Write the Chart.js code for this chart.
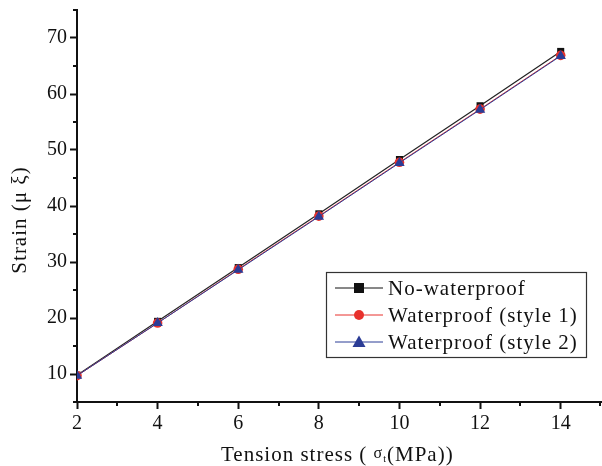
<!DOCTYPE html>
<html>
<head>
<meta charset="utf-8">
<script src="https://cdn.jsdelivr.net/npm/chart.js@4.4.1/dist/chart.umd.min.js"></script>
<style>
  html, body { margin: 0; padding: 0; background: #fff; }
  #wrap { width: 602px; height: 466px; }
</style>
</head>
<body>
<div id="wrap"><canvas id="c" width="602" height="466"></canvas></div>
<script>
// 数据：横轴为拉应力 (MPa)，纵轴为应变
const stress = [2, 4, 6, 8, 10, 12, 14];
const noWaterproof = [9.8, 19.4, 29.0, 38.6, 48.3, 57.9, 67.6];
const waterproof1 = [9.7, 19.1, 28.7, 38.2, 47.8, 57.3, 66.9];
const waterproof2 = [9.7, 19.1, 28.6, 38.1, 47.7, 57.2, 66.8];

const xMajorTicks = [2, 4, 6, 8, 10, 12, 14];
const xMinorTicks = [3, 5, 7, 9, 11, 13, 15];
const yMajorTicks = [10, 20, 30, 40, 50, 60, 70];
const yMinorTicks = [5, 15, 25, 35, 45, 55, 65, 75];

const legendItems = [
  { label: 'No-waterproof', color: '#111', style: 'rect' },
  { label: 'Waterproof (style 1)', color: '#e8312c', style: 'circle' },
  { label: 'Waterproof (style 2)', color: '#2b3c96', style: 'triangle' },
];

const serif = '"Liberation Serif", "Times New Roman", serif';

const toPoints = (ys) => stress.map((x, i) => ({ x, y: ys[i] }));

// 次刻度、图例和坐标轴标题自己画
const extras = {
  id: 'extras',
  afterDraw(chart) {
    const ctx = chart.ctx;
    const xs = chart.scales.x;
    const ys = chart.scales.y;
    const area = chart.chartArea;

    ctx.save();
    ctx.strokeStyle = '#111';
    ctx.lineWidth = 2;
    xMinorTicks.forEach((v) => {
      const px = Math.min(Math.round(xs.getPixelForValue(v)), 600);
      ctx.beginPath();
      ctx.moveTo(px, area.bottom);
      ctx.lineTo(px, area.bottom + 4);
      ctx.stroke();
    });
    yMinorTicks.forEach((v) => {
      const py = Math.round(ys.getPixelForValue(v));
      ctx.beginPath();
      ctx.moveTo(area.left, py);
      ctx.lineTo(area.left - 4, py);
      ctx.stroke();
    });

    // legend box
    const bx = 326, by = 272, bw = 260, bh = 85;
    ctx.fillStyle = '#fff';
    ctx.fillRect(bx, by, bw, bh);
    ctx.lineWidth = 1.2;
    ctx.strokeStyle = '#333';
    ctx.strokeRect(bx + 0.5, by + 0.5, bw, bh);

    ctx.font = '21px ' + serif;
    ctx.letterSpacing = '1px';
    ctx.textBaseline = 'middle';
    ctx.textAlign = 'left';
    legendItems.forEach((item, i) => {
      const cy = by + 16 + i * 27;
      ctx.strokeStyle = item.color;
      ctx.lineWidth = 1;
      ctx.beginPath();
      ctx.moveTo(335, cy);
      ctx.lineTo(383, cy);
      ctx.stroke();
      ctx.fillStyle = item.color;
      const mx = 359;
      ctx.beginPath();
      if (item.style === 'rect') {
        ctx.rect(mx - 5, cy - 5, 10, 10);
      } else if (item.style === 'circle') {
        ctx.arc(mx, cy, 5, 0, Math.PI * 2);
      } else {
        ctx.moveTo(mx, cy - 6.5);
        ctx.lineTo(mx + 6.5, cy + 5);
        ctx.lineTo(mx - 6.5, cy + 5);
        ctx.closePath();
      }
      ctx.fill();
      ctx.fillStyle = '#111';
      ctx.fillText(item.label, 388, cy + 1);
    });

    // x title with subscript t
    ctx.letterSpacing = '1px';
    ctx.fillStyle = '#111';
    ctx.textBaseline = 'alphabetic';
    const base = 461;
    let tx = 221;
    const parts = [
      { t: 'Tension stress ( ', f: '21px ' + serif, dy: 0 },
      { t: 'σ', f: '16px ' + serif, dy: -3 },
      { t: 't', f: '10px ' + serif, dy: 1 },
      { t: '(MPa))', f: '21px ' + serif, dy: 0 },
    ];
    parts.forEach((p) => {
      ctx.font = p.f;
      ctx.fillText(p.t, tx, base + p.dy);
      tx += ctx.measureText(p.t).width;
    });

    // y title
    ctx.save();
    ctx.translate(26, 220);
    ctx.rotate(-Math.PI / 2);
    ctx.font = '21px ' + serif;
    ctx.letterSpacing = '1px';
    ctx.textAlign = 'center';
    ctx.fillText('Strain (μ ξ)', 0, 0);
    ctx.restore();

    ctx.restore();
  },
};

new Chart(document.getElementById('c'), {
  type: 'line',
  data: {
    datasets: [
      {
        label: 'No-waterproof',
        data: toPoints(noWaterproof),
        borderColor: '#222',
        backgroundColor: '#111',
        borderWidth: 1.2,
        pointStyle: 'rect',
        pointRadius: 5,
        pointBorderWidth: 0,
        order: 2,
      },
      {
        label: 'Waterproof (style 1)',
        data: toPoints(waterproof1),
        borderColor: '#e8312c',
        backgroundColor: '#e8312c',
        borderWidth: 1,
        pointStyle: 'circle',
        pointRadius: 4.8,
        pointBorderWidth: 0,
        order: 1,
      },
      {
        label: 'Waterproof (style 2)',
        data: toPoints(waterproof2),
        borderColor: '#2b3c96',
        backgroundColor: '#2b3c96',
        borderWidth: 1,
        pointStyle: 'triangle',
        pointRadius: 6,
        pointBorderWidth: 0,
        order: 0,
      },
    ],
  },
  options: {
    responsive: false,
    animation: false,
    events: [],
    layout: { autoPadding: false, padding: { top: 10, right: 1, left: 0, bottom: 0 } },
    plugins: { legend: { display: false }, tooltip: { enabled: false } },
    scales: {
      x: {
        type: 'linear',
        min: 2,
        max: 15,
        afterBuildTicks: (s) => { s.ticks = xMajorTicks.map((v) => ({ value: v })); },
        afterFit: (s) => { s.height = 64; s.paddingLeft = 0; s.paddingRight = 0; },
        border: { display: true, color: '#111', width: 2 },
        grid: { drawOnChartArea: false, color: '#111', tickLength: 7, tickWidth: 2 },
        ticks: { color: '#111', font: { family: serif, size: 20 }, padding: 3, maxRotation: 0 },
      },
      y: {
        type: 'linear',
        min: 5,
        max: 75,
        afterBuildTicks: (s) => { s.ticks = yMajorTicks.map((v) => ({ value: v })); },
        afterFit: (s) => { s.width = 77; s.paddingTop = 0; s.paddingBottom = 0; },
        border: { display: true, color: '#111', width: 2 },
        grid: { drawOnChartArea: false, color: '#111', tickLength: 7, tickWidth: 2 },
        ticks: { color: '#111', font: { family: serif, size: 20 }, padding: 3 },
      },
    },
  },
  plugins: [extras],
});
</script>
</body>
</html>
